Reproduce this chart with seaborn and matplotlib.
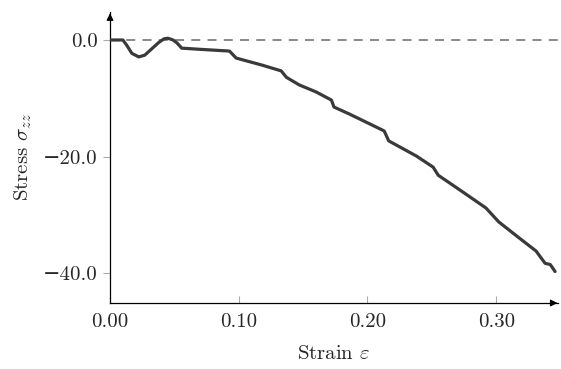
import numpy as np
import pandas as pd
import matplotlib
matplotlib.use("Agg")
import matplotlib.pyplot as plt
import seaborn as sns

# strain / stress values
strain = [0.000, 0.010, 0.013, 0.017, 0.0224, 0.027, 0.032, 0.038, 0.042, 0.045,
          0.049, 0.052, 0.0557, 0.070, 0.0928, 0.098, 0.118, 0.133, 0.137, 0.147,
          0.160, 0.172, 0.174, 0.186, 0.200, 0.213, 0.2165, 0.238, 0.251, 0.255,
          0.271, 0.292, 0.302, 0.317, 0.331, 0.338, 0.342, 0.3457]
stress = [0.0, 0.0, -0.9, -2.3, -2.9, -2.6, -1.6, -0.4, 0.2, 0.3,
          0.0, -0.5, -1.4, -1.6, -1.9, -3.1, -4.3, -5.3, -6.4, -7.7,
          -8.9, -10.3, -11.5, -12.7, -14.2, -15.6, -17.3, -19.9, -21.8, -23.2,
          -25.6, -28.8, -31.2, -33.8, -36.2, -38.3, -38.5, -39.7]

xticks = [0.0, 0.1, 0.2, 0.3]
xtick_labels = ["0.00", "0.10", "0.20", "0.30"]
yticks = [0.0, -20.0, -40.0]
ytick_labels = ["0.0", "\u221220.0", "\u221240.0"]

sns.set_style("white")
plt.rcParams['font.family'] = ['cmr10', 'DejaVu Serif']
plt.rcParams['mathtext.fontset'] = 'cm'
plt.rcParams['axes.unicode_minus'] = True

df = pd.DataFrame({"strain": strain, "stress": stress})

fig = plt.figure(figsize=(5.61, 3.69), dpi=100)
ax = fig.add_axes([110 / 561, 1 - 303 / 369, 448 / 561, 291 / 369])

ax.axhline(0.0, color="#808080", lw=1.3, ls=(0, (5, 4)), zorder=1)
sns.lineplot(data=df, x="strain", y="stress", ax=ax, color="#3a3a3a", lw=2.3, zorder=3)

ax.set_xlim(0.0, 0.348)
ax.set_ylim(-45.1, 4.8)

for s in ["top", "right"]:
    ax.spines[s].set_visible(False)
for s in ["left", "bottom"]:
    ax.spines[s].set_color("black")
    ax.spines[s].set_linewidth(0.9)

# arrow heads at the axis ends
ax.annotate("", xy=(1.005, 0), xytext=(0.98, 0), xycoords="axes fraction",
            arrowprops=dict(arrowstyle="-|>", color="black", lw=0.9, mutation_scale=10))
ax.annotate("", xy=(0, 1.005), xytext=(0, 0.97), xycoords="axes fraction",
            arrowprops=dict(arrowstyle="-|>", color="black", lw=0.9, mutation_scale=10))

ax.set_xticks(xticks)
ax.set_xticklabels(xtick_labels)
ax.set_yticks(yticks)
ax.set_yticklabels(ytick_labels)
ax.tick_params(axis="x", bottom=True, direction="in", length=5, width=0.8,
               color="#aaaaaa", labelsize=15, pad=7)
ax.tick_params(axis="y", left=True, direction="out", length=5, width=0.8,
               color="#aaaaaa", labelsize=15, pad=4)

ax.set_xlabel(r"Strain $\varepsilon$", fontsize=15, labelpad=10)
ax.set_ylabel(r"Stress $\sigma_{zz}$", fontsize=15, labelpad=6)

fig.savefig("out.png", dpi=100)
